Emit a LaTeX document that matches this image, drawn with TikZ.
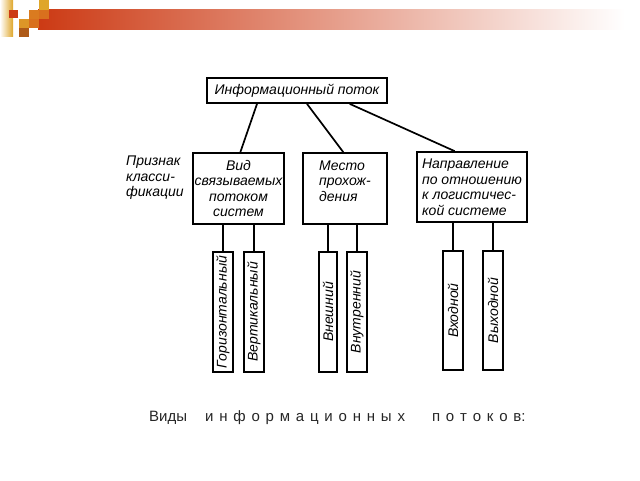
\documentclass[tikz,border=0pt]{standalone}
\usepackage{fontspec}
\setmainfont{Liberation Sans}
\usetikzlibrary{calc}

\definecolor{hdrred}{HTML}{CC3A14}
\definecolor{hdrgold}{HTML}{DFA62A}
\definecolor{hdrorange}{HTML}{D9701E}
\definecolor{captiongray}{HTML}{262626}

\newcommand{\diagfont}{\fontsize{14}{15.5}\selectfont\itshape}

\tikzset{
	box/.style={draw, line width=1.7pt, inner sep=0pt, font=\diagfont},
	vbox/.style={box, rotate=90, minimum width=120pt, minimum height=20pt},
	link/.style={line width=1.7pt},
}

\begin{document}
\begin{tikzpicture}[x=1pt, y=-1pt]
	\useasboundingbox (0,0) rectangle (640,480);
	% header bar and corner squares
	\shade[left color=hdrred, middle color=hdrred!60!white, right color=white] (38,9) rectangle (625,29);
	\shade[left color=white, right color=hdrgold] (0,0) rectangle (13,36);
	\fill[hdrred] (9,10) rectangle (18,18);
	\fill[hdrgold] (39,0) rectangle (49,10);
	\fill[hdrorange!80!hdrgold] (29,10) rectangle (39,19);
	\fill[hdrorange] (39,10) rectangle (49,19);
	\fill[hdrgold!70!hdrorange] (19,19) rectangle (29,28);
	\fill[hdrorange] (29,19) rectangle (39,28);
	\fill[hdrorange!80!black] (19,28) rectangle (29,37);

	% top level
	\node[box, minimum width=180pt, minimum height=25pt] (info) at (297,90.5) {Информационный поток};

	% classification features
	\node[box, align=center, minimum width=91pt, minimum height=71pt] (vid) at (238.5,188.5)
		{Вид\\связываемых\\потоком\\систем};
	\node[box, align=left, minimum width=84pt, minimum height=71pt] (mesto) at (345,188.5)
		{Место\\прохож-\\дения\\\mbox{}};
	\node[box, align=left, minimum width=110pt, minimum height=70pt] (napr) at (472,187)
		{Направление\\по отношению\\к логистичес-\\кой системе};
	\node[font=\diagfont, align=left, inner sep=0pt, anchor=north west] (priznak) at (126,156)
		{Признак\\класси-\\фикации};

	\draw[link] ($(info.south west)!.28!(info.south east)$) -- ($(vid.north west)!.52!(vid.north east)$);
	\draw[link] ($(info.south west)!.555!(info.south east)$) -- ($(mesto.north west)!.48!(mesto.north east)$);
	\draw[link] ($(info.south west)!.79!(info.south east)$) -- ($(napr.north west)!.345!(napr.north east)$);

	% kinds of flows
	\node[vbox] (hor) at (223,312) {Горизонтальный};
	\node[vbox] (vert) at (254,312) {Вертикальный};
	\node[vbox, minimum height=18pt] (vnesh) at (328,312) {Внешний};
	\node[vbox] (vnutr) at (357,312) {Внутренний};
	\node[vbox, minimum width=119pt] (vhod) at (453,310.5) {Входной};
	\node[vbox, minimum width=119pt] (vyhod) at (493,310.5) {Выходной};

	\foreach \kid/\parent in {hor/vid, vert/vid, vnesh/mesto, vnutr/mesto, vhod/napr, vyhod/napr}
		\draw[link] (\kid.east) -- (\kid.east |- \parent.south);

	\node[anchor=base west, inner sep=0pt, text=captiongray, font=\fontsize{15}{18}\selectfont] (caption) at (149,421)
		{\spaceskip=5.8pt\relax Виды\hspace{18pt}и н ф о р м а ц и о н н ы х\hspace{27pt}п о т о к о в:};
\end{tikzpicture}
\end{document}
